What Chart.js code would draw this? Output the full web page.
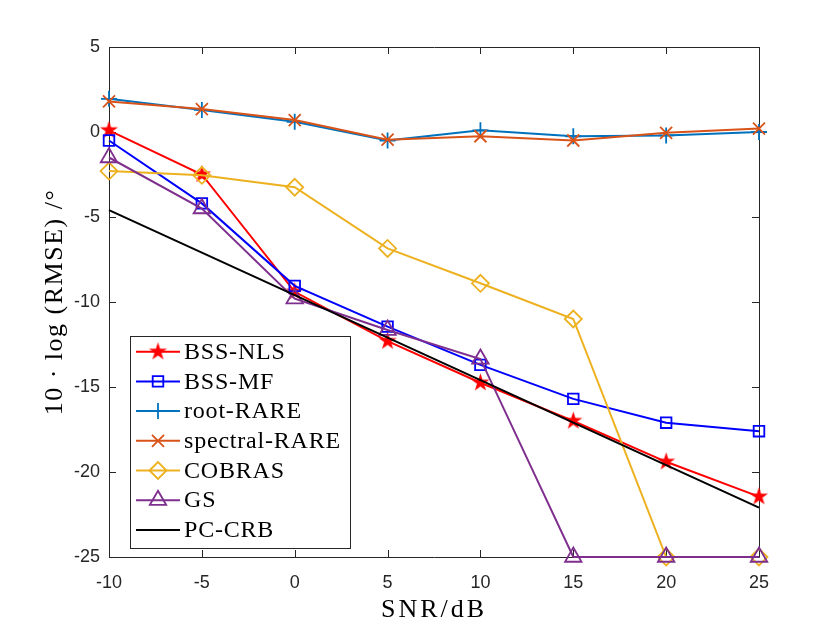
<!DOCTYPE html>
<html>
<head>
<meta charset="utf-8">
<script src="https://cdn.jsdelivr.net/npm/chart.js@4.4.0/dist/chart.umd.min.js"></script>
<style>
  html, body { margin: 0; padding: 0; background: #fff; }
  #wrap { width: 840px; height: 630px; }
</style>
</head>
<body>
<div id="wrap"><canvas id="canvas" width="840" height="630"></canvas></div>
<script>
// SNR axis (dB) and the RMSE curves, in 10*log10 units
var snr = [-10, -5, 0, 5, 10, 15, 20, 25];
var bssNls      = [0.1, -2.5, -9.4, -12.3, -14.75, -17.0, -19.4, -21.45];
var bssMf       = [-0.5, -4.2, -9.05, -11.45, -13.7, -15.7, -17.1, -17.6];
var rootRare    = [1.95, 1.3, 0.6, -0.5, 0.1, -0.25, -0.2, 0.0];
var spectralRare= [1.8, 1.35, 0.7, -0.45, -0.25, -0.5, -0.05, 0.2];
var cobras      = [-2.3, -2.55, -3.25, -6.85, -8.9, -11.0, -25, -25];
var gs          = [-1.5, -4.5, -9.8, -11.65, -13.35, -25, -25, -25];
var pcCrb       = [-4.6, -7.1, -9.6, -12.1, -14.6, -17.1, -19.6, -22.1];

var seriesNames = ['BSS-NLS', 'BSS-MF', 'root-RARE', 'spectral-RARE', 'COBRAS', 'GS', 'PC-CRB'];
var xTicks = [-10, -5, 0, 5, 10, 15, 20, 25];
var yTicks = [-25, -20, -15, -10, -5, 0, 5];

/**
 * filled pentagram marker (the library's "star" is only an asterisk)
 */
function makeStar(color, R){
    var c = document.createElement('canvas');
    var s = Math.ceil(R * 2 + 2);
    c.width = s; c.height = s;
    var g = c.getContext('2d');
    var r = R * 0.382;
    g.beginPath();
    for (var i = 0; i < 10; i++) {
        var rad = i * Math.PI / 5;
        var rr = (i % 2 === 0) ? R : r;
        var px = s / 2 + Math.sin(rad) * rr;
        var py = s / 2 - Math.cos(rad) * rr;
        if (i === 0) g.moveTo(px, py); else g.lineTo(px, py);
    }
    g.closePath();
    g.fillStyle = color;
    g.fill();
    return c;
}
var starImg = makeStar('#ff0000', 9.5);

function pts(vals){
    return vals.map(function(v, i){ return {x: snr[i], y: v}; });
}

var styles = [
    {data: bssNls,       color: '#ff0000', marker: starImg,    r: 9.5},
    {data: bssMf,        color: '#0000ff', marker: 'rect',     r: 7.5},
    {data: rootRare,     color: '#0072bd', marker: 'cross',    r: 8},
    {data: spectralRare, color: '#d95319', marker: 'crossRot', r: 8.5},
    {data: cobras,       color: '#edb120', marker: 'rectRot',  r: 8.5},
    {data: gs,           color: '#7e2f8e', marker: 'triangle', r: 9.5},
    {data: pcCrb,        color: '#000000', marker: false,      r: 0}
];

var datasets = styles.map(function(s, i){
    return {
        label: seriesNames[i],
        data: pts(s.data),
        borderColor: s.color,
        borderWidth: 2,
        backgroundColor: s.color,
        pointStyle: s.marker,
        pointRadius: s.r,
        pointHoverRadius: s.r,
        pointBorderColor: s.color,
        pointBackgroundColor: 'rgba(0,0,0,0)',
        pointBorderWidth: 1.8,
        tension: 0,
        clip: false,
        order: styles.length - i
    };
});

var framePlugin = {
    id: 'frame',
    beforeDatasetsDraw: function(chart){
        var ctx = chart.ctx, a = chart.chartArea, sx = chart.scales.x, sy = chart.scales.y;
        ctx.save();
        ctx.strokeStyle = '#262626';
        ctx.lineWidth = 1;
        ctx.beginPath();
        ctx.rect(Math.round(a.left) + 0.5, Math.round(a.top) + 0.5, Math.round(a.right - a.left), Math.round(a.bottom - a.top));
        xTicks.forEach(function(v){
            var x = Math.round(sx.getPixelForValue(v)) + 0.5;
            ctx.moveTo(x, a.bottom); ctx.lineTo(x, a.bottom - 7);
            ctx.moveTo(x, a.top); ctx.lineTo(x, a.top + 7);
        });
        yTicks.forEach(function(v){
            var y = Math.round(sy.getPixelForValue(v)) + 0.5;
            ctx.moveTo(a.left, y); ctx.lineTo(a.left + 7, y);
            ctx.moveTo(a.right, y); ctx.lineTo(a.right - 7, y);
        });
        ctx.stroke();
        ctx.restore();
    },
    afterDraw: function(chart){
        var ctx = chart.ctx, a = chart.chartArea;
        ctx.save();
        ctx.fillStyle = '#000';
        // axis labels (LaTeX style serif)
        ctx.font = '26px "Liberation Serif"';
        ctx.textAlign = 'center';
        ctx.textBaseline = 'alphabetic';
        ctx.letterSpacing = '3px';
        ctx.fillText('SNR/dB', (a.left + a.right) / 2, 617);
        ctx.save();
        ctx.translate(62, (a.top + a.bottom) / 2);
        ctx.rotate(-Math.PI / 2);
        ctx.letterSpacing = '1.5px';
        ctx.fillText('10 \u00b7 log (RMSE) /\u00b0', 0, 0);
        ctx.restore();

        // legend box
        var bx = 130, by = 336, bw = 220, bh = 212;
        ctx.letterSpacing = '0.8px';
        ctx.fillStyle = '#fff';
        ctx.fillRect(bx, by, bw, bh);
        ctx.strokeStyle = '#262626';
        ctx.lineWidth = 1;
        ctx.strokeRect(bx + 0.5, by + 0.5, bw, bh);
        ctx.font = '24px "Liberation Serif"';
        ctx.textAlign = 'left';
        ctx.textBaseline = 'middle';
        styles.forEach(function(s, i){
            var y = 351.7 + i * 29.7;
            ctx.strokeStyle = s.color;
            ctx.lineWidth = 2;
            ctx.beginPath();
            ctx.moveTo(136, y); ctx.lineTo(180, y);
            ctx.stroke();
            if (s.marker) {
                ctx.lineWidth = 1.8;
                ctx.fillStyle = 'rgba(0,0,0,0)';
                Chart.helpers.drawPoint(ctx, {pointStyle: s.marker, radius: s.r, rotation: 0, borderWidth: 1.8}, 158, y);
            }
            ctx.fillStyle = '#000';
            ctx.fillText(seriesNames[i], 184, y + 1);
        });
        ctx.restore();
    }
};

var tickFont = {family: '"Liberation Sans", Arial, sans-serif', size: 18};

var config = {
    type: 'line',
    data: {datasets: datasets},
    options: {
        responsive: false,
        animation: false,
        layout: {padding: {left: 0, top: 47, right: 81, bottom: 0}},
        plugins: {
            legend: {display: false},
            title: {display: false},
            tooltip: {enabled: false}
        },
        scales: {
            x: {
                type: 'linear',
                min: -10, max: 25,
                afterFit: function(scale){ scale.height = 73; },
                afterBuildTicks: function(scale){ scale.ticks = xTicks.map(function(v){ return {value: v}; }); },
                grid: {display: false, drawTicks: false},
                border: {display: false},
                ticks: {font: tickFont, color: '#262626', padding: 15, maxRotation: 0, autoSkip: false}
            },
            y: {
                type: 'linear',
                min: -25, max: 5,
                afterFit: function(scale){ scale.width = 109; },
                afterBuildTicks: function(scale){ scale.ticks = yTicks.map(function(v){ return {value: v}; }); },
                grid: {display: false, drawTicks: false},
                border: {display: false},
                ticks: {font: tickFont, color: '#262626', padding: 9, autoSkip: false}
            }
        }
    },
    plugins: [framePlugin]
};

var chart = new Chart(document.getElementById('canvas').getContext('2d'), config);
</script>
</body>
</html>
